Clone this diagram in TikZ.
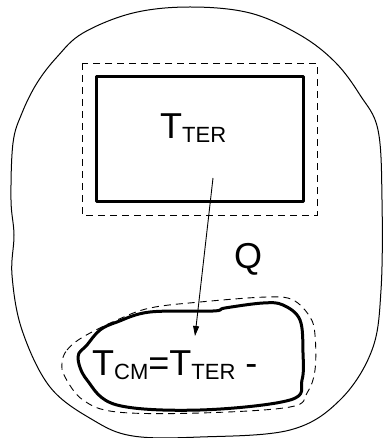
\documentclass[tikz,border=0pt]{standalone}
\usepackage{fontspec}
\setmainfont{Liberation Sans}
\usetikzlibrary{arrows.meta}
\newcommand{\bigtxt}{\fontsize{36}{40}\selectfont}
\newcommand{\subtxt}[1]{\raisebox{-4pt}{\fontsize{22}{22}\selectfont #1}}
\tikzset{
  thinline/.style={line width=1pt, line join=round},
  thickline/.style={line width=3pt, line join=round},
  dashline/.style={line width=0.9pt, dash pattern=on 7pt off 5pt},
  lbl/.style={inner sep=0pt, anchor=base west, font=\bigtxt},
  conn/.style={line width=0.9pt, -{Triangle[length=10pt,width=6pt]}}
}
\begin{document}
\begin{tikzpicture}[x=1pt,y=-1pt]
\useasboundingbox (0,0) rectangle (382,438);
% outer region
\draw[thinline] plot[smooth cycle, tension=0.6] coordinates {
  (190,7) (250,13) (300,35) (335,62) (360,95) (378,130) (382,200)
  (381,290) (372,350) (340,400) (290,430) (200,437) (133,436) (93,420)
  (50,387) (22,330) (12,275) (14,235) (11,200) (13,143) (22,113)
  (37,83) (57,57) (83,33) (133,13)};
% dashed box around the heat reservoir
\draw[dashline] (82,63) rectangle (317,215);
\node[draw, thickline, minimum width=207pt, minimum height=124pt, inner sep=0pt] (box) at (199.5,139) {};
\node[lbl] (tter) at (160,139) {T\subtxt{TER}};
% Q label
\node[lbl] (q) at (234,268) {Q};
% inner dashed blob
\draw[dashline] plot[smooth cycle, tension=0.6] coordinates {
  (62,363) (67,350) (83,337) (117,320) (150,308) (200,302) (267,297)
  (293,300) (310,317) (315,335) (315,370) (307,393) (290,407)
  (200,413) (117,412) (83,400) (65,377)};
% inner solid blob
\draw[thickline] plot[smooth cycle, tension=0.6] coordinates {
  (78,357) (87,345) (100,330) (117,322) (150,312) (213,311) (225,308)
  (263,303) (283,305) (300,320) (303,353) (302,380) (290,400)
  (200,410) (117,405) (87,380)};
\node[lbl] (tcm) at (92,375) {T\subtxt{CM}=T\subtxt{TER} -};
% heat flow arrow
\coordinate (arrS) at (213,178);
\coordinate (arrE) at (195,336);
\draw[conn] (arrS) -- (arrE);
\end{tikzpicture}
\end{document}
